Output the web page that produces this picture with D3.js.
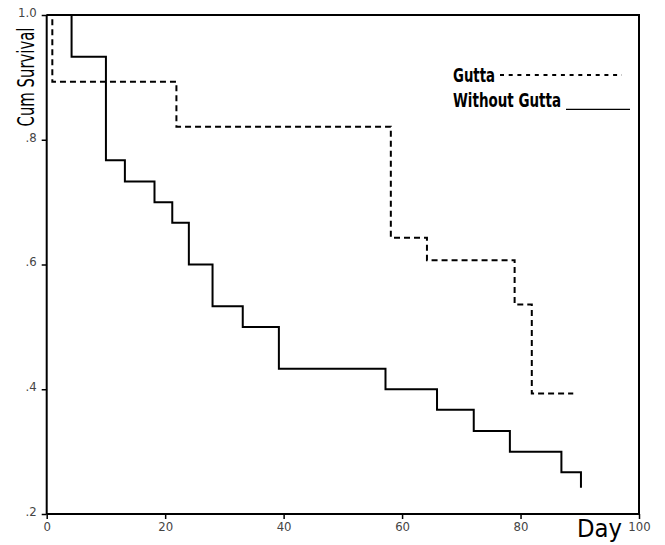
<!DOCTYPE html>
<html><head><meta charset="utf-8">
<script src="https://cdn.jsdelivr.net/npm/d3@7"></script>
<style>
html,body{margin:0;padding:0;background:#fff;}
svg{display:block;}
</style></head>
<body>
<svg id="chart" width="665" height="545"></svg>
<script>
// ---- data ----
const withoutDays = [0, 4.2, 10.0, 13.2, 18.2, 21.2, 24.0, 28.0, 33.1, 39.2, 57.2, 65.9, 72.1, 78.2, 86.9, 90.2];
const withoutSurv = [1.0, 0.933, 0.767, 0.733, 0.700, 0.667, 0.600, 0.533, 0.500, 0.433, 0.400, 0.367, 0.333, 0.300, 0.267, 0.242];
const guttaDays = [0, 0.95, 21.9, 58.1, 64.2, 79.0, 81.9, 88.9];
const guttaSurv = [1.0, 0.893, 0.821, 0.643, 0.607, 0.536, 0.393, 0.393];
const xTicks = [0, 20, 40, 60, 80, 100];
const xTickLabels = ["0", "20", "40", "60", "80", "100"];
const yTicks = [0.2, 0.4, 0.6, 0.8, 1.0];
const yTickLabels = [".2", ".4", ".6", ".8", "1.0"];
const legendLabels = ["Gutta", "Without Gutta"];

const svg = d3.select("#chart");
const W = 665, H = 545;
const m = {left: 46.7, right: 26, top: 15, bottom: 31};

const x = d3.scaleLinear().domain([0, 100]).range([m.left, W - m.right]);
const y = d3.scaleLinear().domain([0.2, 1.0]).range([H - m.bottom, m.top]);

const narrow = "'Liberation Sans Narrow','DejaVu Sans Condensed','Liberation Sans',sans-serif";

// frame (top and right)
svg.append("path")
  .attr("d", `M${x(0)},${y(1)}H${x(100)}V${y(0.2)}`)
  .attr("fill", "none").attr("stroke", "#000").attr("stroke-width", 2);

// axes
const xAxis = d3.axisBottom(x).tickValues(xTicks).tickSize(5)
  .tickFormat((d, i) => xTickLabels[i]);
const gx = svg.append("g").attr("transform", `translate(0,${y(0.2)})`).call(xAxis);
gx.select(".domain").attr("stroke-width", 2).attr("d", `M${x(0)},0H${x(100)}`);
gx.selectAll(".tick line").attr("stroke-width", 1.5);
gx.selectAll(".tick text").attr("font-family", narrow).attr("font-size", 13)
  .attr("fill", "#444").attr("dy", "0.72em").attr("y", 8);

const yAxis = d3.axisLeft(y).tickValues(yTicks).tickSize(5)
  .tickFormat((d, i) => yTickLabels[i]);
const gy = svg.append("g").attr("transform", `translate(${x(0)},0)`).call(yAxis);
gy.select(".domain").attr("stroke-width", 2).attr("d", `M0,${y(1)}V${y(0.2)}`);
gy.selectAll(".tick line").attr("stroke-width", 1.5);
gy.selectAll(".tick text").attr("font-family", narrow).attr("font-size", 13)
  .attr("fill", "#444").attr("x", -10).attr("dy", "0.1em");

// curves
const line = d3.line().curve(d3.curveStepAfter).x(d => x(d[0])).y(d => y(d[1]));
const withoutData = withoutDays.map((d, i) => [d, withoutSurv[i]]);
const guttaData = guttaDays.map((d, i) => [d, guttaSurv[i]]);

svg.append("path").datum(guttaData).attr("d", line)
  .attr("fill", "none").attr("stroke", "#000").attr("stroke-width", 2)
  .attr("stroke-dasharray", "6,4");
svg.append("path").datum(withoutData).attr("d", line)
  .attr("fill", "none").attr("stroke", "#000").attr("stroke-width", 2);

// axis titles
svg.append("text").text("Cum Survival")
  .attr("transform", `translate(34,77) rotate(-90)`)
  .attr("text-anchor", "middle")
  .attr("font-family", narrow).attr("font-size", 23)
  .attr("textLength", 99).attr("lengthAdjust", "spacingAndGlyphs")
  .attr("fill", "#000");
svg.append("text").text("Day")
  .attr("x", 577).attr("y", 536.5)
  .attr("font-family", narrow).attr("font-size", 24)
  .attr("textLength", 45).attr("lengthAdjust", "spacingAndGlyphs")
  .attr("fill", "#000");

// legend
const lg = svg.append("g");
lg.append("text").text(legendLabels[0]).attr("x", 453).attr("y", 81.7)
  .attr("font-family", narrow).attr("font-weight", "bold").attr("font-size", 19)
  .attr("textLength", 42).attr("lengthAdjust", "spacingAndGlyphs");
lg.append("line").attr("x1", 500).attr("x2", 622).attr("y1", 75).attr("y2", 75)
  .attr("stroke", "#000").attr("stroke-width", 2).attr("stroke-dasharray", "4,4.7");
lg.append("text").text(legendLabels[1]).attr("x", 453).attr("y", 106.7)
  .attr("font-family", narrow).attr("font-weight", "bold").attr("font-size", 19)
  .attr("textLength", 108).attr("lengthAdjust", "spacingAndGlyphs");
lg.append("line").attr("x1", 566).attr("x2", 630).attr("y1", 109.3).attr("y2", 109.3)
  .attr("stroke", "#000").attr("stroke-width", 1.3);
</script>
</body></html>
